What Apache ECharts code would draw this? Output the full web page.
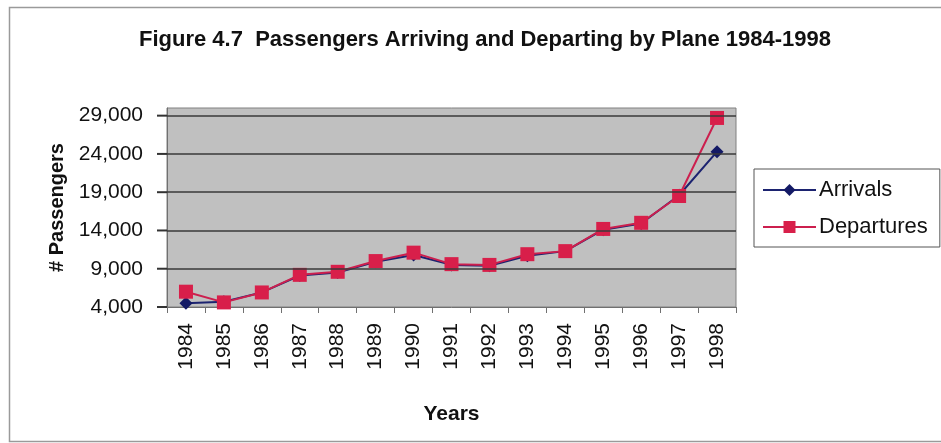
<!DOCTYPE html>
<html>
<head>
<meta charset="utf-8">
<title>Passengers Arriving and Departing by Plane 1984-1998</title>
<script src="https://cdn.jsdelivr.net/npm/echarts@6/dist/echarts.min.js"></script>
<style>
  html, body { margin: 0; padding: 0; background: #ffffff; }
  #chart { width: 941px; height: 443px; }
</style>
</head>
<body>
<div id="chart"></div>
<script>
// Years on the category axis
var years = ['1984', '1985', '1986', '1987', '1988', '1989', '1990', '1991',
             '1992', '1993', '1994', '1995', '1996', '1997', '1998'];

// Passenger counts per year
var arrivals   = [4500, 4700, 5900, 8100, 8500, 9900, 10800, 9500, 9400, 10700, 11300, 14100, 14900, 18600, 24300];
var departures = [6000, 4600, 5900, 8200, 8600, 10000, 11100, 9600, 9500, 10900, 11300, 14200, 15000, 18500, 28700];

// Value axis range and the labelled gridline values
var yMin = 4000;
var yMax = 30000;
var gridValues = [4000, 9000, 14000, 19000, 24000, 29000];

var chart = echarts.init(document.getElementById('chart'), null, { renderer: 'canvas' });

var baseFont = 'Arial, "Liberation Sans", sans-serif';
var gridLeft = 167;

var frame = {
  id: 'frame',
  type: 'rect',
  shape: { x: 9.5, y: 7.5, width: 940, height: 434 },
  style: { fill: 'none', stroke: '#9a9a9a', lineWidth: 1.5 },
  silent: true
};

var option = {
  animation: false,
  backgroundColor: '#ffffff',
  title: {
    text: 'Figure 4.7  Passengers Arriving and Departing by Plane 1984-1998',
    left: 134,
    top: 24,
    textStyle: { fontFamily: baseFont, fontWeight: 'bold', fontSize: 22, color: '#111111' }
  },
  graphic: [frame],
  legend: {
    orient: 'vertical',
    left: 754,
    top: 169,
    padding: [10, 12, 9, 8],
    itemGap: 15,
    itemWidth: 53,
    itemHeight: 15,
    borderColor: '#555555',
    borderWidth: 1,
    textStyle: { fontFamily: baseFont, fontSize: 22, color: '#111111', padding: [0, 0, 0, -2] },
    data: ['Arrivals', 'Departures']
  },
  grid: {
    left: gridLeft,
    right: 205,
    top: 108,
    bottom: 136,
    show: true,
    backgroundColor: '#c0c0c0',
    borderColor: '#808080',
    borderWidth: 1
  },
  xAxis: {
    type: 'category',
    data: years,
    boundaryGap: true,
    name: 'Years',
    nameLocation: 'middle',
    nameGap: 97,
    nameTextStyle: { fontFamily: baseFont, fontWeight: 'bold', fontSize: 21, color: '#111111' },
    axisLine: { lineStyle: { color: '#707070', width: 1 } },
    axisTick: { show: true, alignWithLabel: false, length: 6, lineStyle: { color: '#707070' } },
    axisLabel: {
      rotate: 90,
      margin: 16,
      fontFamily: baseFont,
      fontSize: 21,
      color: '#111111'
    },
    splitLine: { show: false }
  },
  yAxis: {
    type: 'value',
    min: yMin,
    max: yMax,
    name: '# Passengers',
    nameLocation: 'middle',
    nameRotate: 90,
    nameGap: 99,
    nameTextStyle: { fontFamily: baseFont, fontWeight: 'bold', fontSize: 20, color: '#111111' },
    axisLine: { show: true, lineStyle: { color: '#707070', width: 1 } },
    axisTick: { show: false },
    axisLabel: {
      margin: 24,
      fontFamily: baseFont,
      fontSize: 21,
      color: '#111111',
      customValues: gridValues,
      formatter: function (v) { return v.toLocaleString('en-US'); }
    },
    splitLine: { show: false }
  },
  series: [
    {
      name: 'Arrivals',
      type: 'line',
      data: arrivals,
      symbol: 'diamond',
      symbolSize: 13,
      lineStyle: { color: '#1c2370', width: 2 },
      itemStyle: { color: '#141a66' },
      z: 3,
      markLine: {
        silent: true,
        symbol: 'none',
        label: { show: false },
        lineStyle: { color: '#3a3a3a', width: 1.5, type: 'solid' },
        data: gridValues.slice(1).map(function (v) { return { yAxis: v }; })
      }
    },
    {
      name: 'Departures',
      type: 'line',
      data: departures,
      symbol: 'rect',
      symbolSize: 14,
      lineStyle: { color: '#cc1f4e', width: 2 },
      itemStyle: { color: '#d81f4a' },
      z: 4
    }
  ]
};

chart.setOption(option);

// Short tick marks left of the value axis, placed through the grid's own scale
var tickMarks = [];
gridValues.forEach(function (v, i) {
  var pt = chart.convertToPixel({ gridIndex: 0 }, [0, v]);
  var y = Array.isArray(pt) ? pt[1] : pt;
  if (typeof y === 'number' && isFinite(y)) {
    tickMarks.push({
      id: 'ytick' + i,
      type: 'line',
      z: 100,
      shape: { x1: gridLeft - 10, y1: y, x2: gridLeft, y2: y },
      style: { stroke: '#333333', lineWidth: 2 },
      silent: true
    });
  }
});
option.graphic = [frame].concat(tickMarks);
chart.setOption(option, true);
</script>
</body>
</html>
